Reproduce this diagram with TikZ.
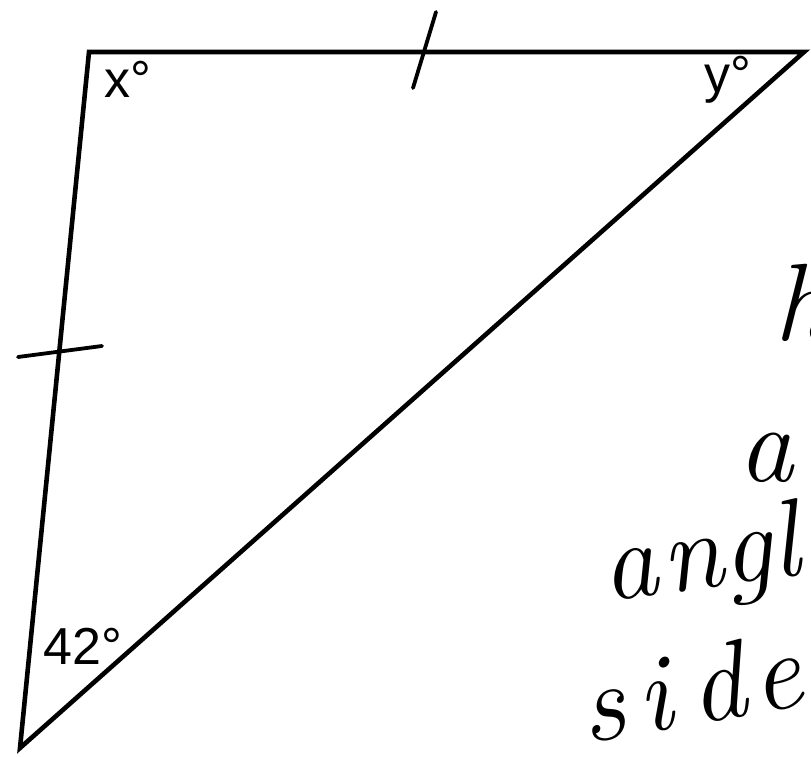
\documentclass[tikz,border=0pt]{standalone}
\usepackage{fontspec}
\newfontfamily\lblfont{Liberation Sans}
\tikzset{
  edgeline/.style={line width=4.6pt, line join=miter, black},
  tickmark/.style={line width=3.8pt, line cap=round, black},
  lbl/.style={font=\lblfont\fontsize{52}{52}\selectfont, inner sep=0pt, anchor=base west},
  hw/.style={font=\itshape\fontsize{110}{110}\selectfont, inner sep=0pt, anchor=base west}
}
\begin{document}
\begin{tikzpicture}[x=1pt,y=-1pt]
\useasboundingbox (0,0) rectangle (811,757);
\clip (0,0) rectangle (811,757);
% vertices
\coordinate (A) at (89,52);
\coordinate (B) at (804,52);
\coordinate (C) at (20,748);
\draw[edgeline] (A) -- (B) -- (C) -- cycle;
% tick marks
\coordinate (t1a) at (413,88);
\coordinate (t1b) at (436,12);
\coordinate (t2a) at (18,357);
\coordinate (t2b) at (102,346);
\draw[tickmark] (t1a) -- (t1b);
\draw[tickmark] (t2a) -- (t2b);
% angle labels
\node[lbl] (xl) at (104,98) {x°};
\node[lbl] (yl) at (704,93) {y°};
\node[lbl] (fl) at (43,664) {42°};
% handwriting
\node[hw] (h1) at (774,340) {h};
\node[hw] (h2) at (738,481) {a};
\node[hw, rotate=8] (h3) at (606,602) {a\kern6pt ngl};
\node[hw, rotate=10] (h4) at (586,744) {s\kern14pt i\kern20pt d\kern8pt e};
\end{tikzpicture}
\end{document}
